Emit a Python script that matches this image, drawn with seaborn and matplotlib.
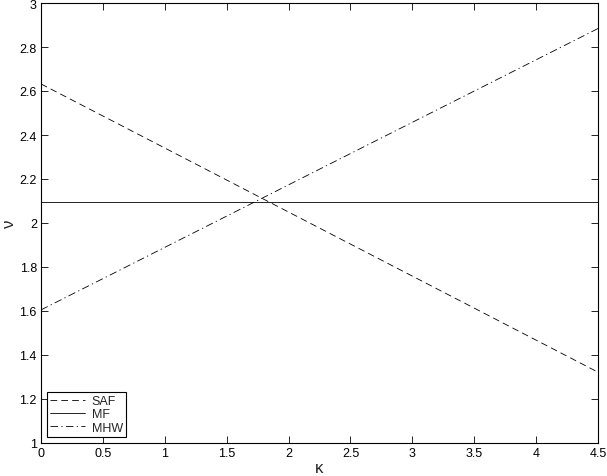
import matplotlib
matplotlib.use("Agg")
import matplotlib.pyplot as plt
import seaborn as sns
import pandas as pd

kappa = [0.0, 4.5]
saf = [2.632, 1.322]
mf = [2.094, 2.094]
mhw = [1.605, 2.884]

sns.set_theme(style="white")
plt.rcParams['font.family'] = ['Liberation Sans', 'DejaVu Sans']

fig = plt.figure(figsize=(6.07, 4.77), dpi=100)
ax = fig.add_axes([41/607, 33/477, 557/607, 440/477])

series = [("SAF", saf, (0, (8, 5))), ("MF", mf, "-"), ("MHW", mhw, (0, (9, 4, 1.5, 4)))]
for name, vals, ls in series:
    df = pd.DataFrame({"k": kappa, "v": vals})
    sns.lineplot(data=df, x="k", y="v", ax=ax, color="black", linewidth=0.6,
                 linestyle=ls, label=name)

ax.set_xlim(0, 4.5)
ax.set_ylim(1, 3)
ax.set_xticks([0, 0.5, 1, 1.5, 2, 2.5, 3, 3.5, 4, 4.5])
ax.set_xticklabels(["0", "0.5", "1", "1.5", "2", "2.5", "3", "3.5", "4", "4.5"])
ax.set_yticks([1, 1.2, 1.4, 1.6, 1.8, 2, 2.2, 2.4, 2.6, 2.8, 3])
ax.set_yticklabels(["1", "1.2", "1.4", "1.6", "1.8", "2", "2.2", "2.4", "2.6", "2.8", "3"])
ax.tick_params(direction="in", length=5, width=0.6, labelsize=9, colors="black",
               top=True, right=True, bottom=True, left=True, pad=3)
for s in ax.spines.values():
    s.set_color("black")
    s.set_linewidth(0.8)
ax.set_xlabel("κ", fontsize=12, va="center", ha="center")
ax.set_ylabel("ν", fontsize=12, va="center", ha="center")
ax.yaxis.set_label_coords(-0.056, 0.5)
ax.xaxis.set_label_coords(0.5, -0.055)

leg = ax.legend(loc="lower left", fontsize=9, frameon=True, fancybox=False,
                edgecolor="black", framealpha=1, borderpad=0.25, labelspacing=0.1,
                handlelength=2.8, handletextpad=0.5, borderaxespad=0.5)
leg.get_frame().set_linewidth(0.8)

fig.savefig("out.png", dpi=100)
